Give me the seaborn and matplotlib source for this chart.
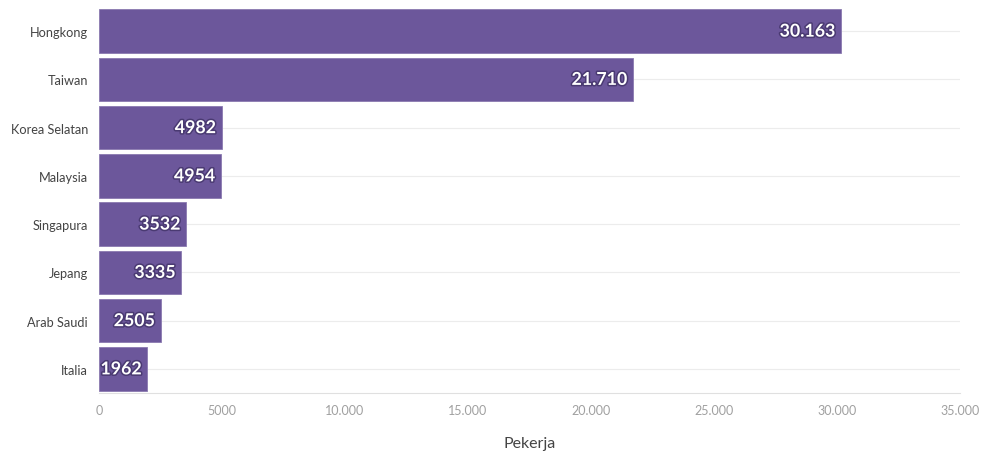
import matplotlib
matplotlib.use("Agg")
import matplotlib.pyplot as plt
import matplotlib.patheffects as pe
import seaborn as sns
import pandas as pd
from matplotlib.ticker import FuncFormatter

countries = ["Hongkong", "Taiwan", "Korea Selatan", "Malaysia", "Singapura", "Jepang", "Arab Saudi", "Italia"]
workers = [30163, 21710, 4982, 4954, 3532, 3335, 2505, 1962]
x_ticks = [0, 5000, 10000, 15000, 20000, 25000, 30000, 35000]
x_label = "Pekerja"

def fmt(v):
    v = int(round(v))
    if v >= 10000:
        return f"{v:,}".replace(",", ".")
    return str(v)

df = pd.DataFrame({"country": countries, "workers": workers})

sns.set_theme(style="white")
plt.rcParams["font.family"] = ["Lato", "DejaVu Sans"]

fig = plt.figure(figsize=(9.84, 4.52), dpi=100)
ax = fig.add_axes([99/984, 1-394/452, (960-99)/984, (394-8)/452])

bar_color = "#6c579b"
sns.barplot(data=df, x="workers", y="country", orient="h", color=bar_color,
            width=0.9, saturation=1, edgecolor="#8a7ab0", linewidth=0.6, ax=ax)

ax.set_xlim(0, 35000)
ax.set_ylim(7.5, -0.5)
ax.set_xticks(x_ticks)
ax.xaxis.set_major_formatter(FuncFormatter(lambda v, p: fmt(v)))
ax.tick_params(axis="x", colors="#e0e0e0", labelcolor="#a0a0a0", labelsize=9,
               length=5, width=0.8, direction="out", pad=3)
ax.tick_params(axis="y", colors="#e0e0e0", labelcolor="#444444", labelsize=9.2,
               length=5, width=0.8, pad=3)
ax.set_ylabel("")
ax.set_xlabel(x_label, fontsize=11.5, color="#444444", labelpad=14)

for s in ["top", "right", "left"]:
    ax.spines[s].set_visible(False)
ax.spines["bottom"].set_color("#e0e0e0")
ax.spines["bottom"].set_linewidth(0.8)

for i in range(len(countries)):
    ax.axhline(i, color="#ececec", linewidth=0.8, zorder=0)

for i, v in enumerate(workers):
    ax.annotate(fmt(v), xy=(v, i), xytext=(-4, 0), textcoords="offset points",
                ha="right", va="center", color="white",
                fontsize=12.8, fontweight="bold",
                path_effects=[pe.withStroke(linewidth=2.2, foreground="#4a3a72")])

fig.savefig("out.png", dpi=100)
